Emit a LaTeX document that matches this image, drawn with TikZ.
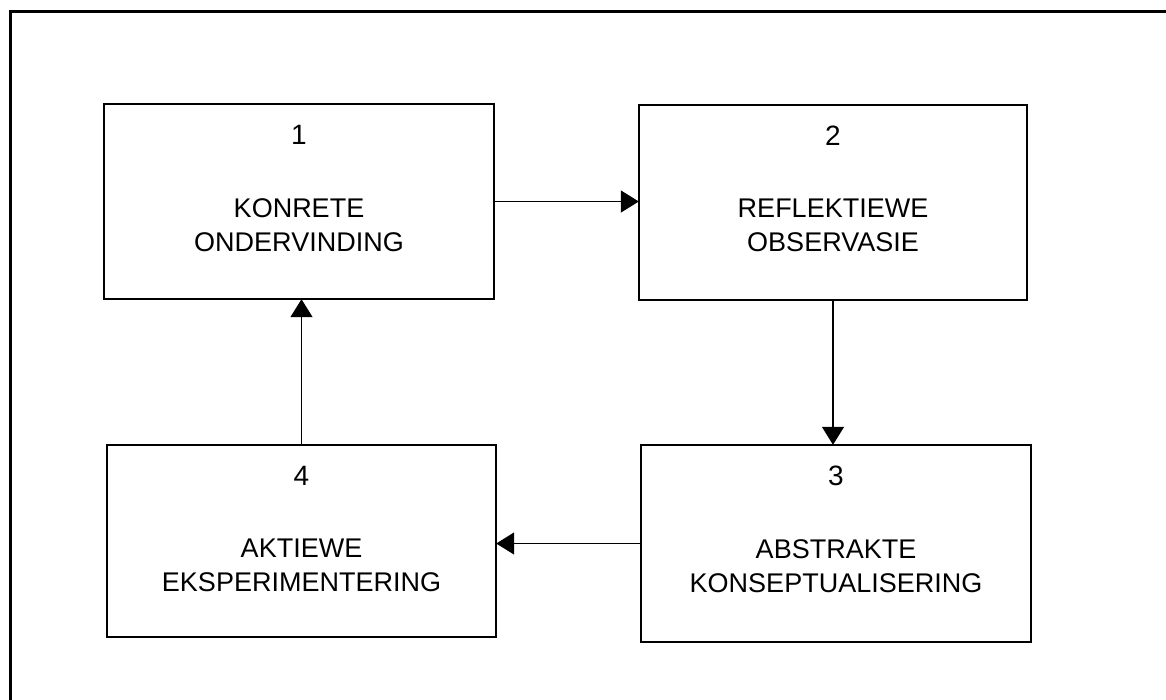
\documentclass[tikz,border=0pt]{standalone}
\usepackage{fontspec}
\setmainfont{Liberation Sans}
\usetikzlibrary{arrows.meta,calc}

\tikzset{
  stagebox/.style={draw=black, line width=2.4pt, minimum width=#1, inner sep=0pt},
  stagenum/.style={font=\fontsize{28}{34}\selectfont, inner sep=0pt},
  stagelabel/.style={font=\fontsize{27}{34}\selectfont, align=center, inner sep=0pt},
  flow/.style={line width=1.4pt, -{Triangle[width=22pt,length=18pt]}, shorten >=-1pt},
}

\begin{document}
\begin{tikzpicture}[x=1pt,y=-1pt]
  \useasboundingbox (0,0) rectangle (1166,699);
  \fill[white] (0,0) rectangle (1166,699);

  % outer frame, running off the page on the right and at the bottom
  \begin{scope}
    \clip (0,0) rectangle (1166,699);
    \draw[line width=3pt] (10,11) rectangle (1185,720);
  \end{scope}

  % the four stages
  \node[stagebox=390pt, minimum height=195pt] (b1) at (299,201.5) {};
  \node[stagebox=388pt, minimum height=195pt] (b2) at (833,202.5) {};
  \node[stagebox=390pt, minimum height=197pt] (b3) at (836,543.5) {};
  \node[stagebox=389pt, minimum height=192pt] (b4) at (301.5,541) {};

  \node[stagenum] (n1) at ($(b1.north)+(0,32)$) {1};
  \node[stagelabel] (l1) at ($(b1.north)+(0,122)$) {KONRETE\\ONDERVINDING};

  \node[stagenum] (n2) at ($(b2.north)+(0,32)$) {2};
  \node[stagelabel] (l2) at ($(b2.north)+(0,122)$) {REFLEKTIEWE\\OBSERVASIE};

  \node[stagenum] (n3) at ($(b3.north)+(0,32)$) {3};
  \node[stagelabel] (l3) at ($(b3.north)+(0,122)$) {ABSTRAKTE\\KONSEPTUALISERING};

  \node[stagenum] (n4) at ($(b4.north)+(0,32)$) {4};
  \node[stagelabel] (l4) at ($(b4.north)+(0,122)$) {AKTIEWE\\EKSPERIMENTERING};

  % cycle arrows
  \draw[flow] (b1.east) -- (b1.east -| b2.west);
  \draw[flow] (b2.south) -- (b2.south |- b3.north);
  \draw[flow] (b3.west) -- (b3.west -| b4.east);
  \draw[flow] (b4.north) -- (b4.north |- b1.south);
\end{tikzpicture}
\end{document}
